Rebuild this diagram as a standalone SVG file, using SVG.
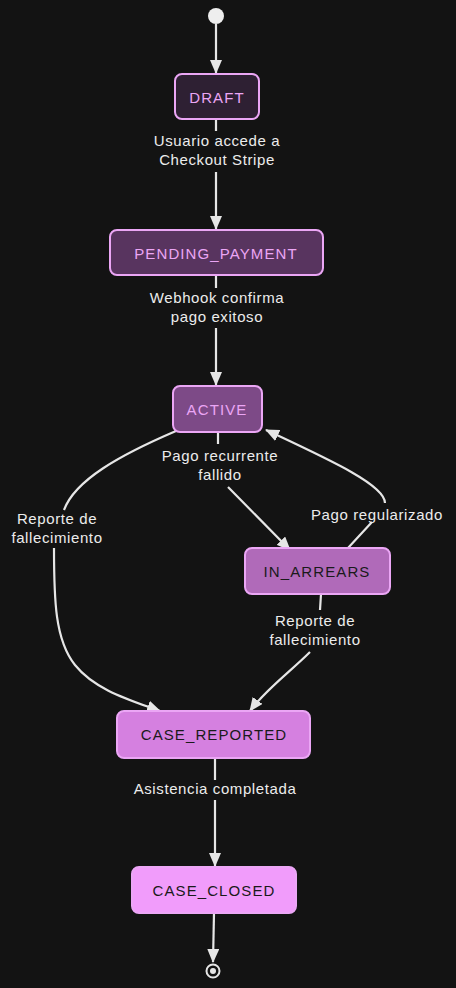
<svg xmlns="http://www.w3.org/2000/svg" width="456" height="988" viewBox="0 0 456 988">
<style>
.node rect{stroke:#eba6f5;stroke-width:2}
.nt{font-family:"Liberation Sans",sans-serif;font-size:15px;text-anchor:middle;dominant-baseline:central;letter-spacing:1.1px}
.lbl{font-family:"Liberation Sans",sans-serif;font-size:15px;fill:#ececec;text-anchor:middle;letter-spacing:0.6px}
.edge{fill:none;stroke:#e6e6e6;stroke-width:2.2}
</style>
<defs>
<marker id="ah" viewBox="0 0 14 12" refX="13" refY="6" markerWidth="14" markerHeight="12" markerUnits="userSpaceOnUse" orient="auto">
<path d="M0,0 L14,6 L0,12 z" fill="#e6e6e6"/>
</marker>
</defs>
<rect width="456" height="988" fill="#131313"/>
<g id="connectors">
<path class="edge" d="M216,24 L216,73" marker-end="url(#ah)"/>
<path class="edge" d="M216,119 L216,131 M216,172 L216,229" marker-end="url(#ah)"/>
<path class="edge" d="M216,275 L216,288 M216,328 L216,385" marker-end="url(#ah)"/>
<path class="edge" d="M176,431 C120,455 75,480 64,510 M54,548 C54,600 55,640 75,665 C95,690 130,700 160,711" marker-end="url(#ah)"/>
<path class="edge" d="M218,432 L218,444 M228,487 L290,550" marker-end="url(#ah)"/>
<path class="edge" d="M348,548 L372,522 M385,503 C385,485 330,460 266,430" marker-end="url(#ah)"/>
<path class="edge" d="M321,594 L320,610 M310,652 C290,672 265,690 250,711" marker-end="url(#ah)"/>
<path class="edge" d="M215,758 L215,780 M215,800 L215,866" marker-end="url(#ah)"/>
<path class="edge" d="M214,913 L213,962" marker-end="url(#ah)"/>
</g>
<g id="start"><circle cx="216" cy="16" r="8" fill="#eeeeee"/></g>
<g id="DRAFT" class="node"><rect x="175" y="74" width="84" height="45" rx="7" fill="#2e2033"/><text class="nt" x="217" y="97" fill="#eba6f5">DRAFT</text></g>
<g id="PENDING_PAYMENT" class="node"><rect x="110" y="230" width="213" height="45" rx="7" fill="#58345f"/><text class="nt" x="216" y="253" fill="#eba6f5">PENDING_PAYMENT</text></g>
<g id="ACTIVE" class="node"><rect x="173" y="386" width="89" height="46" rx="7" fill="#7d4a87"/><text class="nt" x="217" y="409" fill="#eba6f5">ACTIVE</text></g>
<g id="IN_ARREARS" class="node"><rect x="245" y="548" width="145" height="46" rx="7" fill="#b06ab9"/><text class="nt" x="317" y="571" fill="#1a1a1a">IN_ARREARS</text></g>
<g id="CASE_REPORTED" class="node"><rect x="117" y="711" width="193" height="47" rx="7" fill="#d580e0"/><text class="nt" x="214" y="734" fill="#1a1a1a">CASE_REPORTED</text></g>
<g id="CASE_CLOSED" class="node"><rect x="132" y="867" width="164" height="46" rx="7" fill="#f19cfb"/><text class="nt" x="214" y="890" fill="#1a1a1a">CASE_CLOSED</text></g>
<g id="end"><circle cx="213" cy="971" r="6.5" fill="none" stroke="#e6e6e6" stroke-width="2"/><circle cx="213" cy="971" r="3" fill="#e6e6e6"/></g>
<g id="labels">
<text class="lbl" x="217" y="146">Usuario accede a</text>
<text class="lbl" x="217" y="165">Checkout Stripe</text>
<text class="lbl" x="217" y="303">Webhook confirma</text>
<text class="lbl" x="217" y="322">pago exitoso</text>
<text class="lbl" x="220" y="461">Pago recurrente</text>
<text class="lbl" x="220" y="480">fallido</text>
<text class="lbl" x="377" y="520">Pago regularizado</text>
<text class="lbl" x="57" y="524">Reporte de</text>
<text class="lbl" x="57" y="543">fallecimiento</text>
<text class="lbl" x="315" y="626">Reporte de</text>
<text class="lbl" x="315" y="645">fallecimiento</text>
<text class="lbl" x="215" y="794">Asistencia completada</text>
</g>
</svg>
